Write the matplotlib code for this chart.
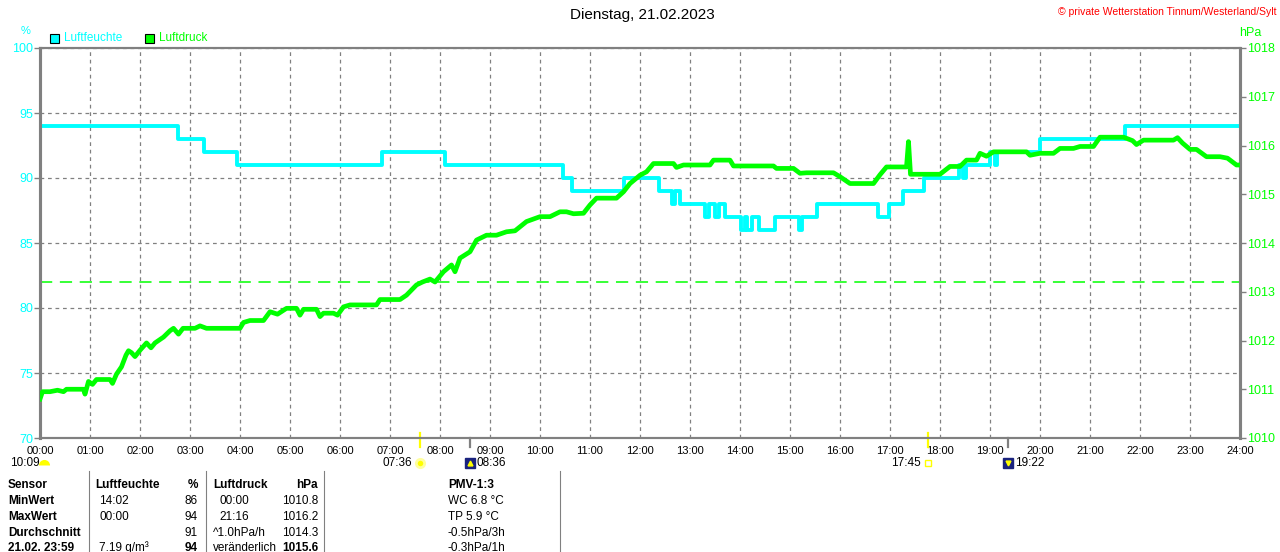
import matplotlib.pyplot as plt
import matplotlib.transforms as mtransforms
from matplotlib.patches import Rectangle
from matplotlib.lines import Line2D

plt.rcParams['font.family'] = ['Liberation Sans', 'DejaVu Sans']

W, H = 1280, 552
CYAN = '#00FFFF'
GREEN = '#00FF00'
GREY = '#808080'

# Luftfeuchte in % (Stufen, Zeit in Stunden)
hum_t = [0, 2.75, 3.27, 3.93, 6.83, 8.1, 10.45, 10.63, 11.67, 12.37, 12.64, 12.7,
         12.8, 13.3, 13.37, 13.5, 13.58, 13.7, 14.02, 14.1, 14.13, 14.23, 14.37,
         14.7, 15.17, 15.23, 15.53, 16.75, 16.97, 17.25, 17.67, 18.37, 18.45,
         18.52, 19.0, 19.1, 19.15, 20.0, 21.7, 24.0]
hum_v = [94, 93, 92, 91, 92, 91, 90, 89, 90, 89, 88, 89,
         88, 87, 88, 87, 88, 87, 86, 87, 86, 87, 86,
         87, 86, 87, 88, 87, 88, 89, 90, 91, 90,
         91, 92, 91, 92, 93, 94, 94]

# Luftdruck in hPa
pres_t = [0.0, 0.05, 0.2, 0.35, 0.47, 0.53, 0.87, 0.9, 0.97, 1.05, 1.13, 1.4, 1.45,
          1.53, 1.63, 1.72, 1.77, 1.83, 1.9, 2.0, 2.13, 2.22, 2.3, 2.47, 2.6, 2.67,
          2.77, 2.86, 3.1, 3.2, 3.33, 3.53, 4.0, 4.07, 4.2, 4.47, 4.6, 4.75, 4.93,
          5.13, 5.2, 5.27, 5.53, 5.6, 5.67, 5.87, 5.95, 6.07, 6.2, 6.73, 6.8, 7.2,
          7.33, 7.53, 7.65, 7.8, 7.9, 8.07, 8.23, 8.3, 8.4, 8.6, 8.73, 8.93, 9.13,
          9.33, 9.5, 9.73, 10.0, 10.2, 10.4, 10.53, 10.67, 10.87, 11.0, 11.13,
          11.53, 11.67, 11.8, 12.0, 12.13, 12.27, 12.67, 12.73, 12.87, 13.4, 13.47,
          13.8, 13.87, 14.67, 14.73, 15.07, 15.2, 15.33, 15.87, 16.0, 16.2, 16.67,
          16.8, 16.93, 17.33, 17.37, 17.41, 18.0, 18.2, 18.4, 18.53, 18.73, 18.8,
          18.93, 19.07, 19.73, 19.8, 20.0, 20.27, 20.4, 20.67, 20.8, 21.07, 21.2,
          21.67, 21.85, 21.93, 22.07, 22.67, 22.75, 22.85, 23.0, 23.13, 23.33,
          23.6, 23.75, 23.93, 24.0]
pres_v = [1010.8, 1010.95, 1010.95, 1010.98, 1010.95, 1011.0, 1011.0, 1010.9,
          1011.16, 1011.1, 1011.2, 1011.2, 1011.12, 1011.31, 1011.46, 1011.7,
          1011.79, 1011.75, 1011.67, 1011.8, 1011.95, 1011.85, 1011.95, 1012.07,
          1012.2, 1012.25, 1012.13, 1012.25, 1012.25, 1012.3, 1012.25, 1012.25,
          1012.25, 1012.37, 1012.41, 1012.41, 1012.59, 1012.54, 1012.66, 1012.66,
          1012.52, 1012.64, 1012.64, 1012.49, 1012.56, 1012.56, 1012.52, 1012.69,
          1012.73, 1012.73, 1012.84, 1012.84, 1012.93, 1013.14, 1013.2, 1013.26,
          1013.2, 1013.41, 1013.55, 1013.41, 1013.69, 1013.82, 1014.06, 1014.16,
          1014.16, 1014.23, 1014.25, 1014.44, 1014.54, 1014.54, 1014.64, 1014.64,
          1014.6, 1014.61, 1014.78, 1014.92, 1014.92, 1015.05, 1015.22, 1015.39,
          1015.46, 1015.63, 1015.63, 1015.55, 1015.6, 1015.6, 1015.7, 1015.7,
          1015.58, 1015.58, 1015.53, 1015.53, 1015.43, 1015.44, 1015.44, 1015.36,
          1015.22, 1015.22, 1015.4, 1015.56, 1015.56, 1016.08, 1015.41, 1015.41,
          1015.57, 1015.57, 1015.7, 1015.7, 1015.84, 1015.78, 1015.87, 1015.87,
          1015.8, 1015.84, 1015.84, 1015.94, 1015.94, 1015.98, 1015.98, 1016.17,
          1016.17, 1016.1, 1016.02, 1016.11, 1016.11, 1016.16, 1016.05, 1015.92,
          1015.92, 1015.77, 1015.77, 1015.74, 1015.6, 1015.6]
pres_ref = 1013.2

hours = list(range(25))
hour_labels = ['%02d:00' % h for h in hours]
hum_ticks = [70, 75, 80, 85, 90, 95, 100]
pres_ticks = list(range(1010, 1019))

day_length = '10:09'
sun_rise, sun_rise_lbl = 7 + 36 / 60, '07:36'
sun_set, sun_set_lbl = 17 + 45 / 60, '17:45'
moon_rise, moon_rise_lbl = 8 + 36 / 60, '08:36'
moon_set, moon_set_lbl = 19 + 22 / 60, '19:22'

# Tabelle unter dem Diagramm
row_names = ['Sensor', 'MinWert', 'MaxWert', 'Durchschnitt', '21.02. 23:59']
hum_col = ['Luftfeuchte', '14:02', '00:00', '', '7.19 g/m³']
hum_val = ['%', '86', '94', '91', '94']
pres_col = ['Luftdruck', '00:00', '21:16', '^1.0hPa/h', 'veränderlich']
pres_val = ['hPa', '1010.8', '1016.2', '1014.3', '1015.6']
pmv_col = ['PMV-1:3', 'WC 6.8 °C', 'TP 5.9 °C', '-0.5hPa/3h', '-0.3hPa/1h']


def fx(x):
    return x / W


def fy(y):
    return 1 - y / H


fig = plt.figure(figsize=(W / 100, H / 100), dpi=100, facecolor='white')
ax = fig.add_axes([fx(40), fy(438), 1200 / W, 390 / H])
ax2 = ax.twinx()

ax.plot(hum_t, hum_v, color=CYAN, lw=2.8, drawstyle='steps-post', zorder=3)
ax2.axhline(pres_ref, color=GREEN, lw=1.1, linestyle=(0, (8, 5)))
ax2.plot(pres_t, pres_v, color=GREEN, lw=3.4, zorder=4)

ax.set_xlim(0, 24)
ax.set_ylim(70, 100)
ax2.set_ylim(1010, 1018)

ax.set_xticks(hours)
ax.set_xticklabels(hour_labels, fontsize=8)
ax.tick_params(axis='x', length=0, pad=6)
ax.set_yticks(hum_ticks)
ax.tick_params(axis='y', length=4, width=1, color=GREY, labelcolor=CYAN,
               labelsize=9, pad=1)
ax2.set_yticks(pres_ticks)
ax2.tick_params(axis='y', length=4, width=1, color=GREY, labelcolor=GREEN,
                labelsize=9, pad=1)

ax.grid(True, color=GREY, lw=0.9, linestyle=(0, (3, 3)))
for a in (ax, ax2):
    a.spines['left'].set_linewidth(2.2)
    a.spines['right'].set_linewidth(2.2)
    a.spines['top'].set_linewidth(1.5)
    a.spines['bottom'].set_linewidth(1.5)
    for s in a.spines.values():
        s.set_color(GREY)

# Kopf
fig.text(fx(642), fy(15), 'Dienstag, 21.02.2023', ha='center', va='center',
         fontsize=11)
fig.text(fx(1276), fy(12), '© private Wetterstation Tinnum/Westerland/Sylt',
         ha='right', va='center', fontsize=7.5, color='red')
fig.text(fx(26), fy(31), '%', ha='center', va='center', fontsize=8, color=CYAN)
fig.text(fx(1250), fy(33), 'hPa', ha='center', va='center', fontsize=9,
         color=GREEN)
fig.patches.append(Rectangle((fx(50), fy(43)), 9 / W, 9 / H, facecolor=CYAN,
                             edgecolor='black', lw=0.8, transform=fig.transFigure))
fig.text(fx(64), fy(38), 'Luftfeuchte', va='center', fontsize=8.5, color=CYAN)
fig.patches.append(Rectangle((fx(145), fy(43)), 9 / W, 9 / H, facecolor=GREEN,
                             edgecolor='black', lw=0.8, transform=fig.transFigure))
fig.text(fx(159), fy(38), 'Luftdruck', va='center', fontsize=8.5, color=GREEN)

# Sonne / Mond unter der Zeitachse
tr = mtransforms.blended_transform_factory(ax.transData, fig.transFigure)
for t in (sun_rise, sun_set):
    ax.plot([t, t], [fy(433), fy(447)], color='#FFFF00', lw=1.6, transform=tr,
            clip_on=False)
for t in (moon_rise, moon_set):
    ax.plot([t, t], [fy(438), fy(447)], color=GREY, lw=1.6, transform=tr,
            clip_on=False)

yi = fy(463)
fig.text(fx(10), yi, day_length, va='center', fontsize=8.5)
fig.lines.append(Line2D([fx(44)], [fy(465)], marker='o', markersize=8,
                        fillstyle='top', markerfacecolor='#FFFF00',
                        markerfacecoloralt='none', markeredgecolor='none',
                        transform=fig.transFigure))

ax.plot([sun_rise], [yi], marker='o', markersize=6, color='#FFFF00',
        markeredgecolor='#FFFFA0', markeredgewidth=2, transform=tr, clip_on=False)
ax.annotate(sun_rise_lbl, xy=(sun_rise, yi), xycoords=tr, xytext=(-6, 0),
            textcoords='offset points', ha='right', va='center', fontsize=8.5)
ax.plot([sun_set], [yi], marker='s', markersize=4, markerfacecolor='none',
        markeredgecolor='#FFFF00', markeredgewidth=1, transform=tr, clip_on=False)
ax.annotate(sun_set_lbl, xy=(sun_set, yi), xycoords=tr, xytext=(-5, 0),
            textcoords='offset points', ha='right', va='center', fontsize=8.5)

for t, lbl, arrow in ((moon_rise, moon_rise_lbl, '^'),
                      (moon_set, moon_set_lbl, 'v')):
    ax.plot([t], [yi], marker='s', markersize=7, color='#1A237E',
            transform=tr, clip_on=False)
    ax.plot([t], [yi], marker=arrow, markersize=3.5, color='#FFFF00',
            transform=tr, clip_on=False)
    ax.annotate(lbl, xy=(t, yi), xycoords=tr, xytext=(4.5, 0),
                textcoords='offset points', ha='left', va='center', fontsize=8.5)

# Tabelle
for x in (89, 206, 324, 560):
    fig.lines.append(Line2D([fx(x), fx(x)], [fy(471), 0], color=GREY, lw=0.8,
                            transform=fig.transFigure))

row_y = [485, 501, 517, 533, 548]
for i, y in enumerate(row_y):
    head = i == 0
    last = i == len(row_y) - 1
    fig.text(fx(8), fy(y), row_names[i], va='center', fontsize=8.5,
             weight='bold')
    fig.text(fx(95 if head else 99), fy(y), hum_col[i], va='center',
             fontsize=8.5, weight='bold' if head else 'normal')
    fig.text(fx(198), fy(y), hum_val[i], va='center', ha='right', fontsize=8.5,
             weight='bold' if head or last else 'normal')
    fig.text(fx(213 if (head or i >= 3) else 219), fy(y), pres_col[i],
             va='center', fontsize=8.5, weight='bold' if head else 'normal')
    fig.text(fx(318), fy(y), pres_val[i], va='center', ha='right', fontsize=8.5,
             weight='bold' if head or last else 'normal')
    fig.text(fx(448), fy(y), pmv_col[i], va='center', fontsize=8.5,
             weight='bold' if head else 'normal')

fig.savefig('out.png', dpi=100, facecolor='white')
